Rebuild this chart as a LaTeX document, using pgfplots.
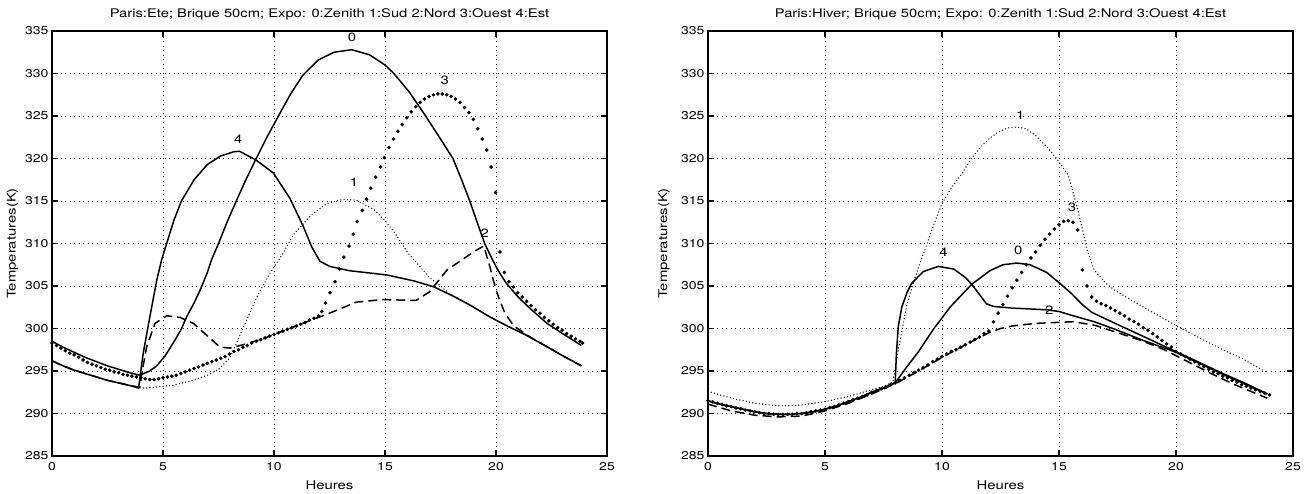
\documentclass[border=0pt]{standalone}
\usepackage{fontspec}
\setmainfont{TeX Gyre Heros}[FakeStretch=1.24]
\usepackage{pgfplots}
\pgfplotsset{compat=1.18}
\begin{document}
\begin{tikzpicture}
\path[use as bounding box] (0,0) rectangle (1312pt,493pt);
\pgfplotsset{
 mystyle/.style={
  scale only axis, anchor=south west,
  xmin=0,xmax=25,ymin=285,ymax=335,
  xtick={0,5,...,25}, ytick={285,290,...,335},
  tick align=inside, major tick length=6pt,
  axis line style={line width=1.2pt},
  every tick/.style={black, line width=1.2pt},
  grid=major,
  major grid style={black!85, line width=0.9pt, dash pattern=on 0.9pt off 3.6pt},
  tick label style={font=\fontsize{11.3}{14}\selectfont},
  /pgf/number format/assume math mode=true,
  xticklabel style={yshift=-3pt},
  label style={font=\fontsize{12}{14}\selectfont},
  every axis title shift=0pt,
  title style={font=\fontsize{11.9}{14}\selectfont, at={(axis description cs:0.5,1.0306)}, anchor=base},
  xlabel style={at={(axis description cs:0.5,-0.068)}, anchor=center},
  xlabel={Heures}, ylabel={Temperatures(K)},
 },
 s0/.style={black, line width=1.5pt},
 s2/.style={black, line width=1.5pt, dash pattern=on 9pt off 5pt},
 s1/.style={black, line width=1.4pt, line cap=round, dash pattern=on 0pt off 3.3pt},
 s3/.style={black, only marks, mark=*, mark size=1.6pt},
}
\tikzset{lab/.style={font=\fontsize{12}{14}\selectfont}}

% ---------------- Left: Ete ----------------
\begin{axis}[mystyle, at={(52pt,37pt)}, width=555pt, height=425pt,
  title={Paris:Ete; Brique 50cm; Expo: 0:Zenith 1:Sud 2:Nord 3:Ouest 4:Est},
  ylabel style={at={(axis description cs:-0.071,0.5)}, anchor=center}]
% 0 Zenith
\addplot[s0] coordinates {(0,298.5) (0.5,297.8) (1,297.2) (1.5,296.6) (2,296.1) (2.5,295.6) (3,295.2) (3.5,294.8) (3.95,294.5) (4.4,295.0) (4.72,295.6) (5.1,296.8) (5.46,298.3) (5.8,299.8) (6.07,301.4) (6.4,303.0) (6.67,304.5) (7.0,306.6) (7.19,308.1) (7.5,310.0) (7.9,312.6) (8.3,315.0) (8.75,317.6) (9.2,320.0) (9.7,322.6) (10.2,325.0) (10.75,327.6) (11.3,329.8) (12.0,331.6) (12.7,332.5) (13.5,332.8) (14.3,332.2) (15.0,331.0) (15.4,330.0) (16.1,327.8) (16.83,325.0) (17.45,322.5) (18.06,320.0) (18.45,317.5) (18.82,315.0) (19.15,312.5) (19.49,310.0) (19.8,308.3) (20.06,307.0) (20.44,305.4) (21.0,303.7) (21.6,302.2) (22.3,300.6) (23.0,299.4) (23.85,298.0)};
% 4 Est
\addplot[s0] coordinates {(0,296.2) (0.5,295.6) (1,295.1) (1.5,294.7) (2,294.3) (2.5,293.9) (3,293.6) (3.5,293.3) (3.9,293.0) (4.0,295.0) (4.11,297.1) (4.41,301.4) (4.72,305.7) (4.94,308.1) (5.2,310.3) (5.5,312.8) (5.83,315.0) (6.4,317.5) (7.0,319.3) (7.6,320.3) (8.2,320.8) (8.45,320.85) (9.2,319.8) (9.97,318.3) (10.72,315.3) (11.32,312.0) (11.7,309.6) (12.07,307.9) (12.52,307.3) (13.4,306.8) (15.08,306.3) (16.3,305.6) (17.2,304.9) (18.0,303.9) (18.8,302.8) (19.7,301.4) (20.5,300.3) (21.3,299.3) (22.2,298.0) (23.0,296.8) (23.85,295.6)};
% 2 Nord
\addplot[s2] coordinates {(0,296.2) (0.5,295.6) (1,295.1) (1.5,294.7) (2,294.3) (2.5,293.9) (3,293.6) (3.5,293.3) (3.95,293.1) (4.1,295.5) (4.26,297.8) (4.64,300.6) (5.17,301.5) (5.77,301.3) (6.37,300.6) (6.97,299.2) (7.57,297.8) (8.02,297.7) (8.62,298.1) (9.52,298.8) (10.0,299.3) (11.0,300.3) (12.0,301.3) (12.5,301.8) (13.7,303.1) (14.9,303.4) (16.4,303.3) (17.0,304.3) (17.8,306.9) (19.1,309.2) (19.45,309.7) (19.7,307.5) (19.9,305.5) (20.1,303.8) (20.4,301.8) (20.8,300.3) (21.2,299.6) (21.6,298.9) (22.2,298.0) (23.0,296.8) (23.85,295.6)};
% 1 Sud
\addplot[s1] coordinates {(0,296.2) (0.5,295.6) (1,295.1) (1.5,294.7) (2,294.3) (2.5,293.9) (3,293.6) (3.5,293.3) (3.9,293.0) (4.3,293.0) (5.4,293.3) (6.2,293.8) (7.0,294.5) (7.5,295.2) (8.0,296.5) (8.3,298.2) (8.6,300.0) (8.9,301.8) (9.3,304.1) (9.82,306.5) (10.35,308.6) (10.87,311.0) (11.62,313.2) (12.37,314.7) (13.12,315.2) (13.7,315.1) (14.5,314.0) (15.0,312.7) (15.45,311.2) (16.0,309.0) (16.5,307.5) (17.0,306.0) (17.5,305.0) (17.9,304.1) (18.8,302.8) (19.7,301.4) (20.5,300.3) (21.3,299.3) (22.2,298.0) (23.0,296.8) (23.85,295.6)};
% 3 Ouest (dots)
\addplot[s3] coordinates {(0.0,298.3) (0.2,298.0) (0.4,297.7) (0.6,297.4) (0.8,297.1) (1.0,296.9) (1.2,296.6) (1.4,296.3) (1.6,296.0) (1.8,295.8) (2.0,295.6) (2.2,295.4) (2.4,295.2) (2.6,295.1) (2.8,294.9) (3.0,294.8) (3.2,294.6) (3.4,294.5) (3.6,294.4) (3.8,294.3) (4.0,294.2) (4.2,294.1) (4.4,294.0) (4.6,294.0) (4.8,294.1) (5.0,294.2) (5.2,294.3) (5.4,294.4) (5.6,294.5) (5.8,294.7) (6.0,294.9) (6.2,295.1) (6.4,295.3) (6.6,295.5) (6.8,295.7) (7.0,295.9) (7.2,296.1) (7.4,296.3) (7.6,296.5) (7.8,296.7) (8.0,297.0) (8.2,297.3) (8.4,297.5) (8.6,297.8) (8.8,298.0) (9.0,298.3) (9.2,298.5) (9.4,298.7) (9.6,298.9) (9.8,299.1) (10.0,299.3) (10.2,299.5) (10.4,299.7) (10.6,299.9) (10.8,300.1) (11.0,300.3) (11.2,300.5) (11.4,300.7) (11.6,301.0) (11.8,301.2) (12.0,301.5) (12.15,302.0) (12.32,303.0) (12.52,304.2) (12.75,305.5) (12.95,307.0) (13.15,308.4) (13.38,309.7) (13.57,311.1) (13.75,312.6) (13.98,313.9) (14.17,315.2) (14.36,316.5) (14.58,317.8) (14.8,319.0) (14.97,320.1) (15.18,321.3) (15.38,322.3) (15.58,323.2) (15.78,324.0) (15.98,324.8) (16.18,325.5) (16.38,326.1) (16.58,326.6) (16.78,327.0) (16.98,327.3) (17.18,327.5) (17.38,327.6) (17.58,327.6) (17.78,327.5) (17.98,327.3) (18.18,327.0) (18.38,326.6) (18.58,326.0) (18.78,325.4) (18.98,324.6) (19.18,323.5) (19.38,322.3) (19.58,321.0) (19.78,319.0) (19.98,316.0) (20.18,309.0) (20.38,306.6) (20.58,305.5) (20.78,304.9) (20.98,304.2) (21.18,303.7) (21.38,303.2) (21.58,302.7) (21.78,302.2) (21.98,301.8) (22.18,301.3) (22.38,300.9) (22.58,300.5) (22.78,300.1) (22.98,299.8) (23.18,299.4) (23.38,299.1) (23.58,298.8) (23.78,298.5) (23.9,298.3)};
\node[lab] at (axis cs:13.51,334.3) {0};
\node[lab] at (axis cs:17.69,329.2) {3};
\node[lab] at (axis cs:8.39,322.3) {4};
\node[lab] at (axis cs:13.6,317.2) {1};
\node[lab] at (axis cs:19.49,311.2) {2};
\end{axis}

% ---------------- Right: Hiver ----------------
\begin{axis}[mystyle, at={(708pt,37pt)}, width=585pt, height=425pt,
  title={Paris:Hiver; Brique 50cm; Expo: 0:Zenith 1:Sud 2:Nord 3:Ouest 4:Est},
  ylabel style={at={(axis description cs:-0.0752,0.5)}, anchor=center}]
% 4 Est
\addplot[s0] coordinates {(0,291.5) (0.5,291.1) (1,290.8) (1.5,290.5) (2,290.2) (2.5,290.0) (3,289.9) (3.5,289.9) (4,290.0) (4.5,290.2) (5,290.5) (5.5,290.9) (6,291.4) (6.5,291.9) (7,292.5) (7.5,293.0) (8,293.6) (8.05,297.0) (8.13,300.2) (8.28,302.5) (8.5,304.2) (8.7,305.3) (9.2,306.7) (9.84,307.3) (10.5,307.0) (11.0,306.0) (11.27,305.2) (11.6,304.0) (11.9,302.9) (12.19,302.6) (13.0,302.4) (13.76,302.3) (14.47,302.2) (15.0,302.0) (15.6,301.5) (16.5,300.8) (17.4,299.9) (18.5,298.7) (19.9,297.3) (21,295.9) (22,294.6) (23,293.4) (23.9,292.3)};
% 0 Zenith
\addplot[s0] coordinates {(0,291.5) (0.5,291.1) (1,290.8) (1.5,290.5) (2,290.2) (2.5,290.0) (3,289.9) (3.5,289.9) (4,290.0) (4.5,290.2) (5,290.5) (5.5,290.9) (6,291.4) (6.5,291.9) (7,292.5) (7.5,293.0) (8,293.6) (8.5,295.5) (9.0,297.3) (9.63,299.9) (10.34,302.5) (11.27,305.2) (12.05,306.8) (12.6,307.5) (13.2,307.7) (13.76,307.5) (14.47,306.6) (15.04,305.3) (15.5,304.2) (16.0,302.8) (16.4,301.9) (17.4,300.6) (18.5,299.2) (19.9,297.4) (21,296.0) (22,294.7) (23,293.5) (23.9,292.3)};
% 2 Nord
\addplot[s2] coordinates {(0,291.1) (1,290.3) (2,289.8) (3,289.6) (4,289.7) (5,290.3) (6,291.2) (7,292.3) (8,293.5) (9,295.0) (10,296.6) (11,298.1) (12,299.5) (12.5,300.0) (13,300.3) (14,300.6) (14.8,300.7) (15.6,300.8) (16.5,300.4) (17.4,299.6) (18.5,298.6) (19.5,297.5) (20.5,296.1) (21.5,294.7) (22.5,293.4) (23.9,291.8)};
% 1 Sud
\addplot[s1] coordinates {(0,292.6) (1,291.8) (2,291.2) (3,290.9) (4,291.0) (5,291.4) (6,292.0) (7,292.8) (7.5,293.2) (7.9,293.7) (8.2,298.5) (8.5,302.8) (8.8,305.6) (9.1,308.0) (9.4,310.3) (9.7,312.6) (10.0,314.7) (10.3,316.1) (10.6,317.3) (10.9,318.4) (11.2,319.8) (11.6,321.2) (12.0,322.3) (12.4,323.1) (12.8,323.6) (13.2,323.7) (13.6,323.5) (14.0,322.7) (14.5,321.3) (14.9,320.0) (15.4,318.0) (15.8,314.0) (16.1,310.5) (16.2,309.2) (16.5,306.9) (17.0,305.3) (17.43,304.4) (18.3,303.0) (19.2,301.6) (20.1,300.2) (21.0,298.9) (22.0,297.5) (22.8,296.5) (23.9,294.8)};
% 3 Ouest (dots)
\addplot[s3] coordinates {(0.0,291.5) (0.2,291.35) (0.4,291.2) (0.6,291.05) (0.8,290.9) (1.0,290.8) (1.2,290.65) (1.4,290.55) (1.6,290.4) (1.8,290.3) (2.0,290.2) (2.2,290.1) (2.4,290.0) (2.6,290.0) (2.8,289.9) (3.0,289.9) (3.2,289.9) (3.4,289.9) (3.6,289.9) (3.8,290.0) (4.0,290.0) (4.2,290.1) (4.4,290.2) (4.6,290.3) (4.8,290.4) (5.0,290.5) (5.2,290.7) (5.4,290.8) (5.6,291.0) (5.8,291.2) (6.0,291.4) (6.2,291.6) (6.4,291.8) (6.6,292.0) (6.8,292.2) (7.0,292.5) (7.2,292.7) (7.4,292.9) (7.6,293.1) (7.8,293.4) (8.0,293.6) (8.2,293.9) (8.4,294.2) (8.6,294.5) (8.8,294.8) (9.0,295.1) (9.2,295.4) (9.4,295.7) (9.6,296.1) (9.8,296.4) (10.0,296.7) (10.2,297.0) (10.4,297.3) (10.6,297.5) (10.8,297.8) (11.0,298.1) (11.2,298.4) (11.4,298.7) (11.6,299.0) (11.8,299.4) (12.0,299.7) (12.2,300.8) (12.4,301.8) (12.6,302.8) (12.8,303.8) (13.0,304.8) (13.2,305.7) (13.4,306.6) (13.6,307.5) (13.8,308.3) (14.0,309.0) (14.2,309.8) (14.4,310.5) (14.6,311.1) (14.8,311.7) (15.0,312.2) (15.2,312.6) (15.4,312.7) (15.6,312.5) (15.8,311.6) (16.0,306.9) (16.2,305.0) (16.4,303.7) (16.6,303.2) (16.8,302.9) (17.0,302.7) (17.2,302.4) (17.4,302.1) (17.6,301.8) (17.8,301.5) (18.0,301.1) (18.2,300.8) (18.4,300.5) (18.6,300.1) (18.8,299.8) (19.0,299.4) (19.2,299.0) (19.4,298.6) (19.6,298.2) (19.8,297.8) (20.0,297.3) (20.2,297.0) (20.4,296.7) (20.6,296.4) (20.8,296.1) (21.0,295.8) (21.2,295.5) (21.4,295.2) (21.6,294.9) (21.8,294.7) (22.0,294.4) (22.2,294.2) (22.4,293.9) (22.6,293.7) (22.8,293.4) (23.0,293.2) (23.2,293.0) (23.4,292.8) (23.6,292.6) (23.8,292.4) (24.0,292.2)};
\node[lab] at (axis cs:13.34,325.1) {1};
\node[lab] at (axis cs:15.56,314.3) {3};
\node[lab] at (axis cs:10.06,309.0) {4};
\node[lab] at (axis cs:13.26,309.2) {0};
\node[lab] at (axis cs:14.58,302.2) {2};
\end{axis}
\end{tikzpicture}
\end{document}
